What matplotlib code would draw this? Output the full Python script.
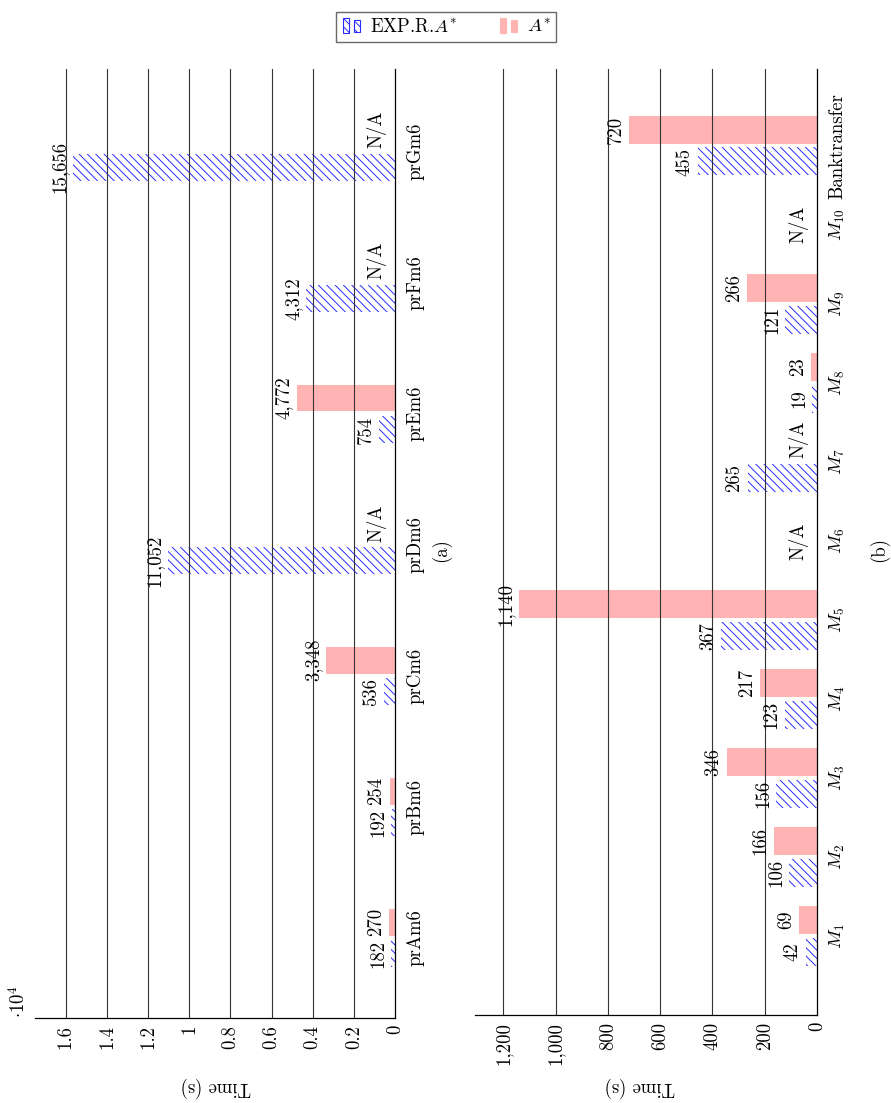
import matplotlib
matplotlib.use("Agg")
import matplotlib.pyplot as plt
import matplotlib.patches as mpatches
from matplotlib.legend_handler import HandlerBase
import numpy as np

plt.rcParams['font.family'] = ['cmr10', 'DejaVu Serif']
plt.rcParams['mathtext.fontset'] = 'cm'
plt.rcParams['axes.unicode_minus'] = False
plt.rcParams['hatch.linewidth'] = 0.7
plt.rcParams['font.size'] = 13.5

# ---- data, panel (a) ----
cats_a = ['prAm6', 'prBm6', 'prCm6', 'prDm6', 'prEm6', 'prFm6', 'prGm6']
exp_a = [182, 192, 536, 11052, 754, 4312, 15656]
astar_a = [270, 254, 3348, None, 4772, None, None]
ticks_a = [0, 2000, 4000, 6000, 8000, 10000, 12000, 14000, 16000]
ticklabels_a = ['0', '0.2', '0.4', '0.6', '0.8', '1', '1.2', '1.4', '1.6']

# ---- data, panel (b) ----
cats_b = ['$M_1$', '$M_2$', '$M_3$', '$M_4$', '$M_5$', '$M_6$', '$M_7$',
          '$M_8$', '$M_9$', '$M_{10}$', 'Banktransfer']
exp_b = [42, 106, 156, 123, 367, None, 265, 19, 121, None, 455]
astar_b = [69, 166, 346, 217, 1140, None, None, 23, 266, None, 720]
ticks_b = [0, 200, 400, 600, 800, 1000, 1200]
ticklabels_b = ['0', '200', '400', '600', '800', '1,000', '1,200']

HATCH_COL = '#2a2aff'
PINK = '#ffb3b3'
W, H = 891, 1103


class TwoBarHandler(HandlerBase):
    # pgfplots style legend image: two small bars
    def create_artists(self, legend, orig_handle, xdescent, ydescent,
                       width, height, fontsize, trans):
        bw = width * 0.28
        r1 = mpatches.Rectangle((xdescent + width * 0.05, -ydescent - height * 0.1),
                                bw, height * 1.2, transform=trans)
        r2 = mpatches.Rectangle((xdescent + width * 0.55, -ydescent),
                                bw, height * 0.9, transform=trans)
        for r in (r1, r2):
            r.set_facecolor(orig_handle.get_facecolor())
            r.set_hatch(orig_handle.get_hatch())
            r.set_edgecolor(orig_handle.get_edgecolor())
            r.set_linewidth(0.8)
        return [r1, r2]


def fmt(v):
    return f'{v:,}'


def draw_panel(ax, cats, exp, astar, ticks, ticklabels, xmax, ylim, off, bw):
    y = np.arange(len(cats))
    for i in range(len(cats)):
        if exp[i] is not None:
            ax.barh(y[i] - off, exp[i], height=bw, color='none',
                    edgecolor=HATCH_COL, hatch='\\\\\\\\', linewidth=0, zorder=1)
            ax.annotate(fmt(exp[i]), (exp[i], y[i] - off), xytext=(-3, 0),
                        textcoords='offset points', rotation=90,
                        ha='right', va='center', zorder=4)
        if astar[i] is not None:
            ax.barh(y[i] + off, astar[i], height=bw, color=PINK,
                    linewidth=0, zorder=1)
            ax.annotate(fmt(astar[i]), (astar[i], y[i] + off), xytext=(-3, 0),
                        textcoords='offset points', rotation=90,
                        ha='right', va='center', zorder=4)
        if exp[i] is None and astar[i] is None:
            ax.annotate('N/A', (0, y[i]), xytext=(-6, 0),
                        textcoords='offset points', rotation=90,
                        ha='right', va='center')
        elif astar[i] is None:
            ax.annotate('N/A', (0, y[i] + off * 1.4), xytext=(-6, 0),
                        textcoords='offset points', rotation=90,
                        ha='right', va='center')

    ax.set_xlim(xmax, 0)
    ax.set_ylim(*ylim)
    ax.set_xticks(ticks)
    ax.set_xticklabels(ticklabels, rotation=90)
    ax.set_yticks(y)
    ax.set_yticklabels(cats, rotation=90, va='center')
    ax.yaxis.tick_right()
    ax.tick_params(axis='both', length=0)
    ax.tick_params(axis='x', pad=5)
    ax.tick_params(axis='y', pad=8)
    for g in ticks[1:]:
        ax.axvline(g, color='#333333', lw=0.8, zorder=2)
    for s in ['top', 'left']:
        ax.spines[s].set_visible(False)
    for s in ['bottom', 'right']:
        ax.spines[s].set_linewidth(0.9)
        ax.spines[s].set_zorder(3)


fig = plt.figure(figsize=(W / 100, H / 100), dpi=100)
ax_a = fig.add_axes([35 / W, 1 - 1018 / H, 360 / W, (1018 - 69) / H])
ax_b = fig.add_axes([475 / W, 1 - 1015 / H, 342 / W, (1015 - 69) / H])

draw_panel(ax_a, cats_a, exp_a, astar_a, ticks_a, ticklabels_a,
           17500, (-0.61, 6.63), 0.12, 0.205)
draw_panel(ax_b, cats_b, exp_b, astar_b, ticks_b, ticklabels_b,
           1308, (-1.0, 10.97), 0.2, 0.355)

fig.text(216 / W, 1 - 1087 / H, 'Time (s)', rotation=180, ha='center', va='center')
fig.text(640 / W, 1 - 1087 / H, 'Time (s)', rotation=180, ha='center', va='center')
fig.text(19 / W, 1 - 1002 / H, r'$\cdot 10^4$', rotation=90,
         ha='center', va='center')
fig.text(441 / W, 1 - 550 / H, '(a)', rotation=90, ha='center', va='center')
fig.text(879 / W, 1 - 550 / H, '(b)', rotation=90, ha='center', va='center')

h1 = mpatches.Patch(facecolor='none', edgecolor=HATCH_COL, hatch='\\\\\\\\')
h2 = mpatches.Patch(facecolor=PINK, edgecolor=PINK)
fig.legend([h1, h2], [r'EXP.R.$A^{*}$', r'$A^{*}$'],
           handler_map={h1: TwoBarHandler(), h2: TwoBarHandler()},
           loc='center', bbox_to_anchor=(446 / W, 1 - 27 / H), ncol=2,
           frameon=True, fancybox=False, edgecolor='#444444',
           handlelength=1.2, handletextpad=0.3, columnspacing=2.2,
           borderpad=0.3, fontsize=13.5)

fig.savefig('out.png', dpi=100)
